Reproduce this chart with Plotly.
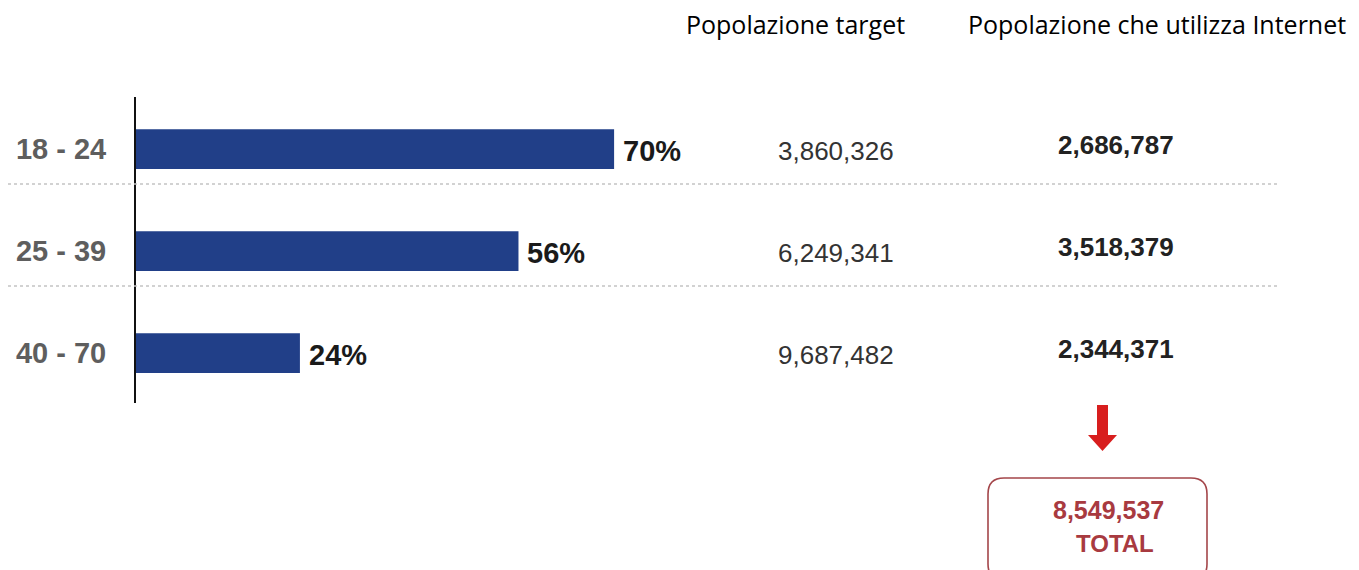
import plotly.graph_objects as go

# ---- data ----
age_groups = ["18 - 24", "25 - 39", "40 - 70"]
internet_pct = [70, 56, 24]
target_population = ["3,860,326", "6,249,341", "9,687,482"]
internet_population = ["2,686,787", "3,518,379", "2,344,371"]
total_label = "8,549,537"
header_target = "Popolazione target"
header_internet = "Popolazione che utilizza Internet"

W, H = 1359, 570
def px(x):
    return x / W
def py(y):
    return 1 - y / H

BAR = "#213f88"
ypos = list(range(len(age_groups)))

fig = go.Figure()
fig.add_trace(go.Bar(
    x=internet_pct, y=ypos, orientation="h",
    marker=dict(color=BAR, line=dict(width=0)),
    width=0.39, hoverinfo="skip",
))

annotations = []
for i, (p, t, n) in enumerate(zip(internet_pct, target_population, internet_population)):
    annotations.append(dict(x=p, y=i, xref="x", yref="y", text=f"<b>{p}%</b>",
                            showarrow=False, xanchor="left", xshift=7, yshift=-2,
                            font=dict(family="Liberation Sans, Arial", size=29, color="#1a1a1a")))
    annotations.append(dict(x=px(836), y=i, xref="paper", yref="y", text=t,
                            showarrow=False, xanchor="center", yshift=-2,
                            font=dict(family="Liberation Sans, Arial", size=26, color="#333333")))
    annotations.append(dict(x=px(1116), y=i, xref="paper", yref="y", text=f"<b>{n}</b>",
                            showarrow=False, xanchor="center", yshift=4,
                            font=dict(family="Liberation Sans, Arial", size=26, color="#222222")))

annotations.append(dict(x=px(795), y=py(24), xref="paper", yref="paper", text=header_target,
                        showarrow=False, xanchor="center", yanchor="middle",
                        font=dict(family="Open Sans", size=25, color="#000000")))
annotations.append(dict(x=px(1157), y=py(24), xref="paper", yref="paper", text=header_internet,
                        showarrow=False, xanchor="center", yanchor="middle",
                        font=dict(family="Open Sans", size=25, color="#000000")))

RED_TXT = "#a83a40"
annotations.append(dict(x=px(1108), y=py(510), xref="paper", yref="paper", text=f"<b>{total_label}</b>",
                        showarrow=False, xanchor="center", yanchor="middle",
                        font=dict(family="Liberation Sans, Arial", size=25, color=RED_TXT)))
annotations.append(dict(x=px(1115), y=py(543), xref="paper", yref="paper", text="<b>TOTAL</b>",
                        showarrow=False, xanchor="center", yanchor="middle",
                        font=dict(family="Liberation Sans, Arial", size=24, color=RED_TXT)))

shapes = []
for yy in (184, 286):
    shapes.append(dict(type="line", xref="paper", yref="paper",
                       x0=px(8), x1=px(1279), y0=py(yy), y1=py(yy),
                       line=dict(color="#c4c4c4", width=1.5, dash="dot")))

# arrow
ax = [1097, 1108, 1108, 1117, 1102.5, 1088, 1097]
ay = [405, 405, 435, 435, 451, 435, 435]
path = "M " + " L ".join(f"{px(a)},{py(b)}" for a, b in zip(ax, ay)) + " Z"
shapes.append(dict(type="path", xref="paper", yref="paper", path=path,
                   fillcolor="#d81e1e", line=dict(width=0)))

# rounded box
x0, x1, y0, y1, r = 988, 1207, 478, 580, 16
pts = [
    f"M {px(x0+r)},{py(y0)}",
    f"L {px(x1-r)},{py(y0)}",
    f"Q {px(x1)},{py(y0)} {px(x1)},{py(y0+r)}",
    f"L {px(x1)},{py(y1-r)}",
    f"Q {px(x1)},{py(y1)} {px(x1-r)},{py(y1)}",
    f"L {px(x0+r)},{py(y1)}",
    f"Q {px(x0)},{py(y1)} {px(x0)},{py(y1-r)}",
    f"L {px(x0)},{py(y0+r)}",
    f"Q {px(x0)},{py(y0)} {px(x0+r)},{py(y0)} Z",
]
shapes.append(dict(type="path", xref="paper", yref="paper", path=" ".join(pts),
                   line=dict(color="#a4464a", width=1.6)))

fig.update_layout(
    width=W, height=H,
    margin=dict(l=0, r=0, t=0, b=0),
    paper_bgcolor="white", plot_bgcolor="white",
    showlegend=False,
    xaxis=dict(domain=[px(136), px(819)], range=[0, 100], visible=False, fixedrange=True),
    yaxis=dict(domain=[py(403), py(97)], range=[2.49, -0.51],
               tickvals=ypos, ticktext=[f"<b>{a}</b>" for a in age_groups],
               tickfont=dict(family="Liberation Sans, Arial", size=29, color="#5e5e5e"),
               ticks="", ticklabelstandoff=22,
               showline=True, linecolor="#111111", linewidth=2,
               showgrid=False, zeroline=False, fixedrange=True),
    annotations=annotations,
    shapes=shapes,
)

fig.write_html("out.html")
